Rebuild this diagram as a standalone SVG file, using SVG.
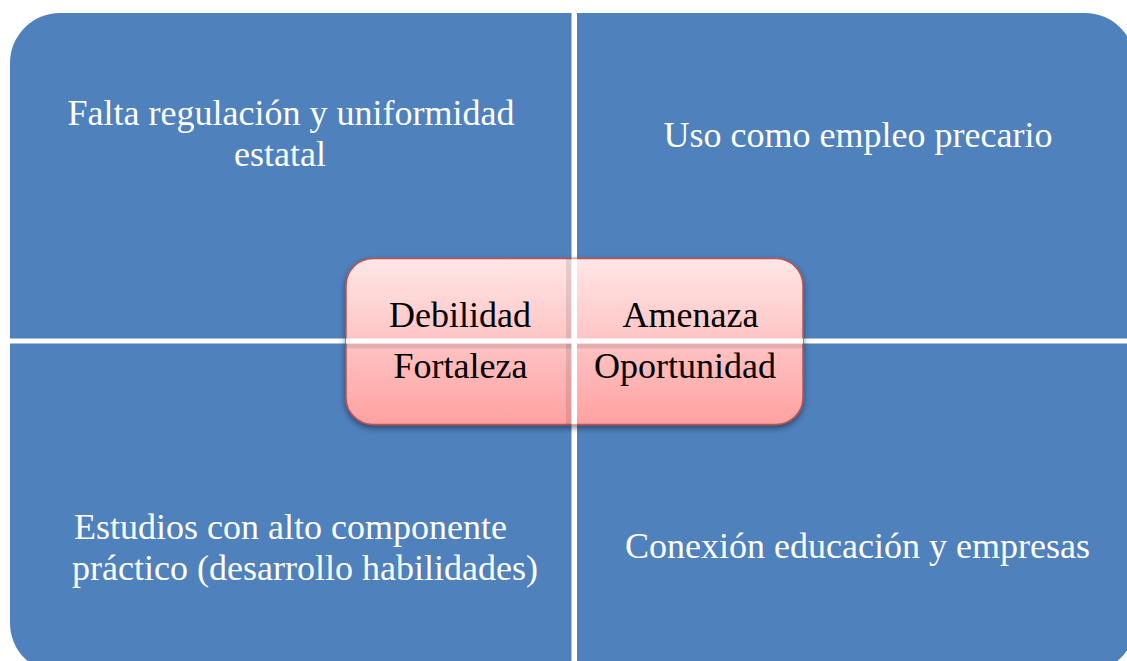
<svg xmlns="http://www.w3.org/2000/svg" width="1127" height="661" viewBox="0 0 1127 661">
<style>
.q{fill:#4F81BD;}
.qt{font-family:"Liberation Serif","Times New Roman",serif;font-size:36px;fill:#FFFFFF;text-anchor:middle;}
.ct{font-family:"Liberation Serif","Times New Roman",serif;font-size:36px;fill:#000000;text-anchor:middle;}
.gap{fill:#FFFFFF;}
</style>
<defs>
<linearGradient id="pink" x1="0" y1="0" x2="0" y2="1">
<stop offset="0" stop-color="#FFE6E6"/>
<stop offset="0.5" stop-color="#FFC4C4"/>
<stop offset="1" stop-color="#FFA1A1"/>
</linearGradient>
<filter id="sh" x="-10%" y="-10%" width="120%" height="130%">
<feGaussianBlur in="SourceAlpha" stdDeviation="3"/>
<feOffset dx="0" dy="3" result="b"/>
<feComponentTransfer><feFuncA type="linear" slope="0.45"/></feComponentTransfer>
<feMerge><feMergeNode/><feMergeNode in="SourceGraphic"/></feMerge>
</filter>
<clipPath id="cc"><rect x="346" y="258.5" width="457" height="166" rx="27"/></clipPath>
</defs>
<rect width="1127" height="661" fill="#FFFFFF"/>
<g id="q-debilidad">
<path class="q" d="M10,338.5 V63 A50,50 0 0 1 60,13 H571.5 V338.5 Z"/>
<text class="qt" x="291" y="125">Falta regulación y uniformidad</text>
<text class="qt" x="280" y="165.5">estatal</text>
</g>
<g id="q-amenaza">
<path class="q" d="M577,13 H1085 A50,50 0 0 1 1135,63 V338.5 H577 Z"/>
<text class="qt" x="858" y="147">Uso como empleo precario</text>
</g>
<g id="q-fortaleza">
<path class="q" d="M10,343.5 H571.5 V673 H60 A50,50 0 0 1 10,623 Z"/>
<text class="qt" x="290.5" y="539">Estudios con alto componente</text>
<text class="qt" x="305" y="579.5">práctico (desarrollo habilidades)</text>
</g>
<g id="q-oportunidad">
<path class="q" d="M577,343.5 H1135 V623 A50,50 0 0 1 1085,673 H577 Z"/>
<text class="qt" x="857.5" y="558">Conexión educación y empresas</text>
</g>
<g id="center">
<rect x="346" y="258.5" width="457" height="166" rx="27" fill="url(#pink)" stroke="#C0504D" stroke-width="1.5" filter="url(#sh)"/>
<g clip-path="url(#cc)">
<rect x="566" y="258" width="5.5" height="167" fill="#000000" opacity="0.1"/>
<rect x="346" y="343.5" width="457" height="5" fill="#000000" opacity="0.1"/>
<rect class="gap" x="571.5" y="258" width="5.5" height="167"/>
<rect class="gap" x="346" y="338.5" width="457" height="5"/>
</g>
<text class="ct" x="460" y="327">Debilidad</text>
<text class="ct" x="690.5" y="327">Amenaza</text>
<text class="ct" x="460.5" y="378">Fortaleza</text>
<text class="ct" x="685" y="378">Oportunidad</text>
</g>
<g id="connectors"></g>
</svg>
